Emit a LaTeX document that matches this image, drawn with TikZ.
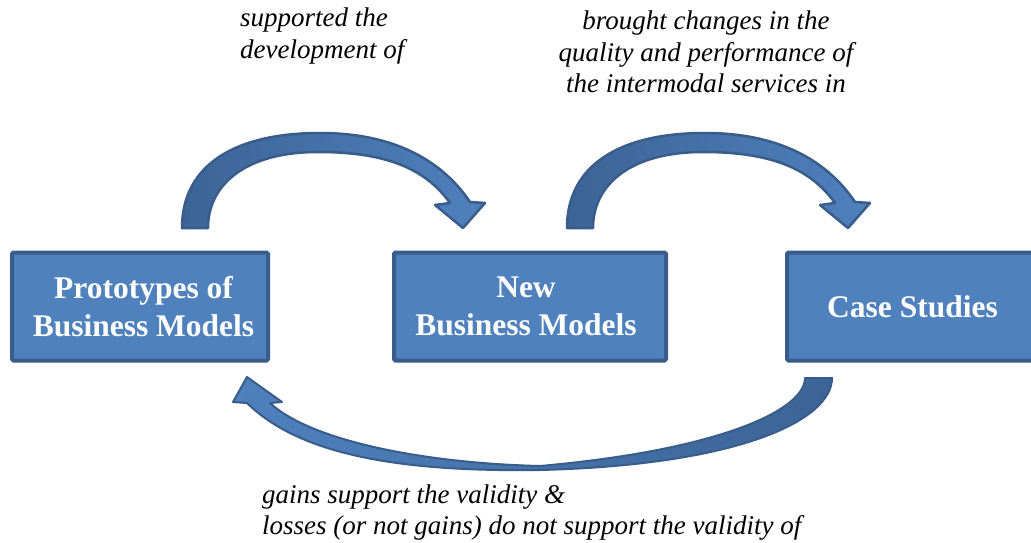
\documentclass[tikz,border=0pt]{standalone}
\usepackage{fontspec}
\setmainfont{Liberation Serif}
\definecolor{boxfill}{HTML}{4F81BD}
\definecolor{boxborder}{HTML}{385D8A}
\definecolor{arrowdark}{HTML}{3C6496}
\begin{document}
\begin{tikzpicture}[x=1pt,y=-1pt,
  box/.style={draw=boxborder, fill=boxfill, line width=4pt, rounded corners=1.5pt,
    minimum width=256pt, minimum height=108pt, inner sep=0pt},
  boxtext/.style={text=white, font=\fontsize{31.5}{38}\selectfont\bfseries, align=center, inner sep=0pt},
  lbl/.style={font=\fontsize{27}{31.5}\selectfont\itshape, inner sep=0pt, text=black},
  blockarrow/.style={draw=boxborder, line width=2.5pt, line join=round}
]
\useasboundingbox (0,0) rectangle (1031,543);
\fill[white] (0,0) rectangle (1031,543);

% boxes
\node[box] (proto) at (140,306.5) {};
\node[boxtext] (prototext) at (143.5,306.5) {Prototypes of\\Business Models};
\node[box, minimum width=272pt] (new) at (530,306.5) {};
\node[boxtext] (newtext) at (526,306.5) {New\\Business Models};
\node[box] (case) at (915,306.5) {};
\node[boxtext] (casetext) at (912.5,306.5) {Case Studies};

% top arrow 1
\path[blockarrow, left color=arrowdark, right color=boxfill]
  (182,228) .. controls (182,165) and (235,133) .. (320,133)
  .. controls (400,133) and (445,165) .. (470,202)
  -- (485,203) -- (463,228) -- (435,205) -- (450,203)
  .. controls (425,168) and (385,152) .. (318,152)
  .. controls (245,152) and (208,185) .. (208,228) -- cycle;

% top arrow 2
\begin{scope}[xshift=385pt]
\path[blockarrow, left color=arrowdark, right color=boxfill]
  (182,228) .. controls (182,165) and (235,133) .. (320,133)
  .. controls (400,133) and (445,165) .. (470,202)
  -- (485,203) -- (463,228) -- (435,205) -- (450,203)
  .. controls (425,168) and (385,152) .. (318,152)
  .. controls (245,152) and (208,185) .. (208,228) -- cycle;
\end{scope}

% bottom arrow
\path[blockarrow, line width=2pt, left color=boxfill, right color=arrowdark]
  (805,378) -- (832,378)
  .. controls (832,420) and (740,465) .. (540,470)
  .. controls (400,472) and (300,455) .. (247,403)
  -- (233,402) -- (247,377) -- (282,402) -- (270,403)
  .. controls (310,440) and (420,463) .. (540,466)
  .. controls (720,450) and (805,410) .. (805,378) -- cycle;

% labels
\node[lbl, align=left, anchor=west] (l1) at (240,36) {supported the\\development of};
\node[lbl, align=center] (l2) at (706,52) {brought changes in the\\quality and performance of\\the intermodal services in};
\node[lbl, align=left, anchor=west] (l3) at (262,512.5) {gains support the validity \&\\losses (or not gains) do not support the validity of};
\end{tikzpicture}
\end{document}
